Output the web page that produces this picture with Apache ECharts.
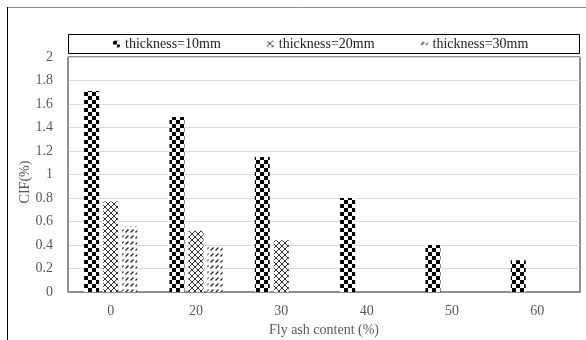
<!DOCTYPE html>
<html>
<head>
<meta charset="utf-8">
<script src="https://cdn.jsdelivr.net/npm/echarts@6/dist/echarts.min.js"></script>
<style>html,body{margin:0;padding:0;background:#fff}#c{width:586px;height:340px}</style>
</head>
<body>
<div id="c"></div>
<script>
const categories = ['0', '20', '30', '40', '50', '60'];
const seriesNames = ['thickness=10mm', 'thickness=20mm', 'thickness=30mm'];
const t10 = [1.71, 1.49, 1.15, 0.80, 0.40, 0.27];
const t20 = [0.77, 0.52, 0.44, null, null, null];
const t30 = [0.56, 0.39, null, null, null, null];
const yTicks = { min: 0, max: 2, interval: 0.2 };

function makeCanvas(w, h) {
  const c = document.createElement('canvas');
  c.width = w; c.height = h;
  return c;
}
function checker() {
  const c = makeCanvas(8, 8), g = c.getContext('2d');
  g.fillStyle = '#fff'; g.fillRect(0, 0, 8, 8);
  g.fillStyle = '#000';
  g.fillRect(0, 0, 4, 4); g.fillRect(4, 4, 4, 4);
  return c;
}
function cross() {
  const c = makeCanvas(6, 6), g = c.getContext('2d');
  g.fillStyle = '#fff'; g.fillRect(0, 0, 6, 6);
  g.strokeStyle = '#333'; g.lineWidth = 1;
  g.beginPath();
  g.moveTo(0, 0); g.lineTo(6, 6);
  g.moveTo(6, 0); g.lineTo(0, 6);
  g.stroke();
  return c;
}
function dashes() {
  const c = makeCanvas(5, 6), g = c.getContext('2d');
  g.fillStyle = '#fff'; g.fillRect(0, 0, 5, 6);
  g.strokeStyle = '#222'; g.lineWidth = 1.2;
  g.beginPath();
  g.moveTo(0.5, 4.5); g.lineTo(3.5, 1.5);
  g.stroke();
  return c;
}
const pats = [checker(), cross(), dashes()].map(c => ({ image: c, repeat: 'repeat' }));
const font = '"Liberation Serif", "Times New Roman", serif';

const chart = echarts.init(document.getElementById('c'), null, { renderer: 'canvas' });
chart.setOption({
  animation: false,
  backgroundColor: '#fff',
  graphic: [
    { type: 'line', shape: { x1: 7, y1: 7.5, x2: 586, y2: 7.5 }, style: { stroke: '#888', lineWidth: 1 } },
    { type: 'line', shape: { x1: 7.5, y1: 7, x2: 7.5, y2: 340 }, style: { stroke: '#000', lineWidth: 1 } },
    { type: 'rect', shape: { x: 68.5, y: 34.5, width: 511, height: 19 }, style: { fill: 'none', stroke: '#000', lineWidth: 1 } },
    { type: 'text', x: 25, y: 182, rotation: Math.PI / 2,
      style: { text: 'CIF(%)', fontFamily: font, fontSize: 14, fill: '#595959', align: 'center', verticalAlign: 'middle' } }
  ],
  legend: {
    left: 108, top: 32,
    itemWidth: 7, itemHeight: 7, itemGap: 46,
    textStyle: { fontFamily: font, fontSize: 14, color: '#222' },
    data: seriesNames
  },
  grid: { left: 68, right: 6, top: 57, bottom: 48, show: true, borderColor: '#222', borderWidth: 1, outerBoundsMode: 'none', containLabel: false },
  xAxis: {
    type: 'category', data: categories,
    name: 'Fly ash content (%)', nameLocation: 'middle', nameGap: 31,
    nameTextStyle: { fontFamily: font, fontSize: 14, color: '#595959' },
    axisLine: { lineStyle: { color: '#8c8c8c' } },
    axisTick: { show: false },
    axisLabel: { fontFamily: font, fontSize: 14, color: '#595959', margin: 12 }
  },
  yAxis: {
    type: 'value', min: yTicks.min, max: yTicks.max, interval: yTicks.interval,
    axisLine: { show: true, lineStyle: { color: '#8c8c8c' } },
    axisTick: { show: false },
    splitLine: { lineStyle: { color: '#d9d9d9' } },
    axisLabel: { fontFamily: font, fontSize: 14, color: '#595959', margin: 15 }
  },
  series: [t10, t20, t30].map((d, i) => ({
    name: seriesNames[i], type: 'bar', data: d,
    barWidth: 15, barGap: '27%',
    itemStyle: { color: pats[i] }
  }))
});
</script>
</body>
</html>
